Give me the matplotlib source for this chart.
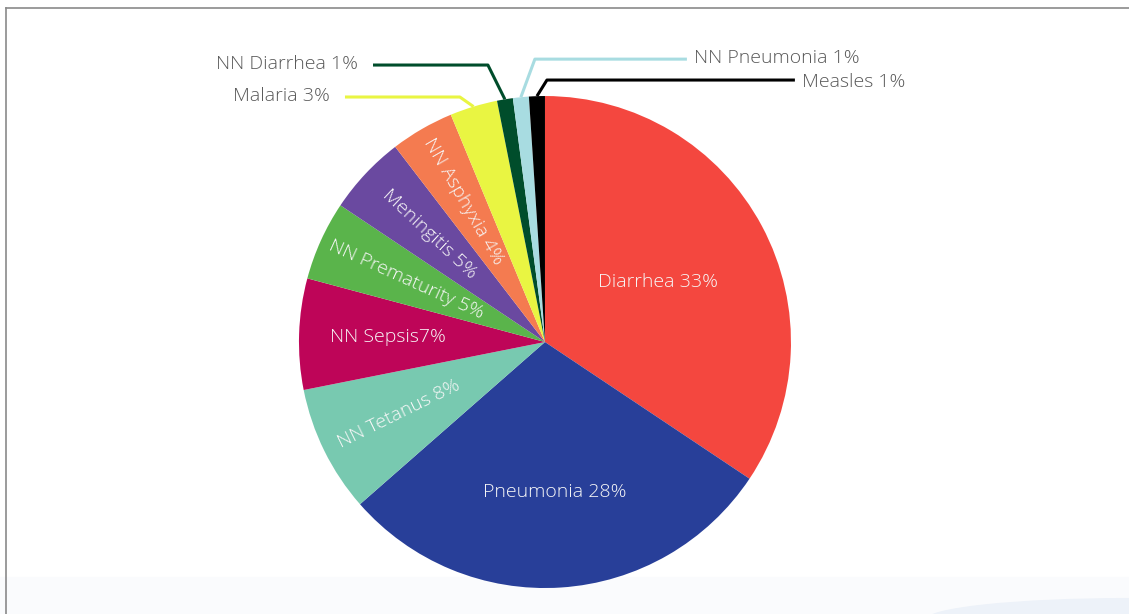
import numpy as np
import matplotlib.pyplot as plt
from matplotlib.lines import Line2D
from matplotlib.patches import Ellipse, Rectangle

# causes of child deaths (percent)
causes = ['Diarrhea', 'Pneumonia', 'NN Tetanus', 'NN Sepsis', 'NN Prematurity',
          'Meningitis', 'NN Asphyxia', 'Malaria', 'NN Diarrhea', 'NN Pneumonia', 'Measles']
shares = [33, 28, 8, 7, 5, 5, 4, 3, 1, 1, 1]
label_texts = ['Diarrhea 33%', 'Pneumonia 28%', 'NN Tetanus 8%', 'NN Sepsis7%',
               'NN Prematurity 5%', 'Meningitis 5%', 'NN Asphyxia 4%', 'Malaria 3%',
               'NN Diarrhea 1%', 'NN Pneumonia 1%', 'Measles 1%']
colors = ['#F4473F', '#283F99', '#78C9B0', '#BE0558', '#5AB44B', '#6A49A0',
          '#F47B50', '#E9F542', '#004D2B', '#A8DCE1', '#000000']

plt.rcParams['font.family'] = ['Open Sans', 'DejaVu Sans']
fs = 14

fig = plt.figure(figsize=(11.29, 6.14), dpi=100)

# faint background decoration at the bottom
fig.add_artist(Rectangle((0, 0), 1, 0.06, transform=fig.transFigure,
                         color='#FAFBFD', zorder=0))
fig.add_artist(Ellipse((1.0, -0.01), 0.36, 0.07, transform=fig.transFigure,
                       color='#EDF2F9', zorder=0))
# frame lines top / left
fig.add_artist(Line2D([0.005, 1], [0.987, 0.987], color='#8a8a8a', lw=1.2))
fig.add_artist(Line2D([0.0055, 0.0055], [0, 0.987], color='#8a8a8a', lw=1.2))

ax = fig.add_axes([0.2648, 0.0423, 0.4358, 0.8013])
wedges, _ = ax.pie(shares, colors=colors, startangle=90, counterclock=False,
                   radius=1, wedgeprops=dict(linewidth=0))
ax.set_xlim(-1, 1)
ax.set_ylim(-1, 1)
ax.set_aspect('equal')
ax.axis('off')

# inner labels: (radius, rotate?)
inner = {0: (0.52, False), 1: (0.61, False), 2: (0.66, True), 3: (0.64, False),
         4: (0.62, True), 5: (0.64, True), 6: (0.66, True)}
for i, (r, rot) in inner.items():
    w = wedges[i]
    mid = np.deg2rad((w.theta1 + w.theta2) / 2)
    ang = np.rad2deg(mid) - 180 if rot else 0
    ax.text(r * np.cos(mid), r * np.sin(mid), label_texts[i], color='#F7F7F7',
            fontsize=fs, fontweight='light', ha='center', va='center',
            rotation=ang, rotation_mode='anchor')

# outer labels with leader lines: (elbow x, elbow y, line end x, side)
outer = {7: (-0.346, 0.996, -0.813, 'right'),
         8: (-0.232, 1.126, -0.699, 'right'),
         9: (-0.041, 1.150, 0.577, 'left'),
         10: (0.008, 1.065, 1.016, 'left')}
for i, (ex, ey, lx, side) in outer.items():
    w = wedges[i]
    mid = np.deg2rad((w.theta1 + w.theta2) / 2)
    sx, sy = np.cos(mid) * 1.0, np.sin(mid) * 1.0
    ax.plot([sx, ex, lx], [sy, ey, ey], color=colors[i], lw=2.2, clip_on=False,
            solid_capstyle='butt')
    tx = lx - 0.06 if side == 'right' else lx + 0.03
    ty = ey - 0.01 if i == 10 else ey + 0.005
    ax.text(tx, ty, label_texts[i], color='#595959', fontsize=fs,
            fontweight='light', ha=side, va='center', clip_on=False)

fig.savefig('out.png', dpi=100)
